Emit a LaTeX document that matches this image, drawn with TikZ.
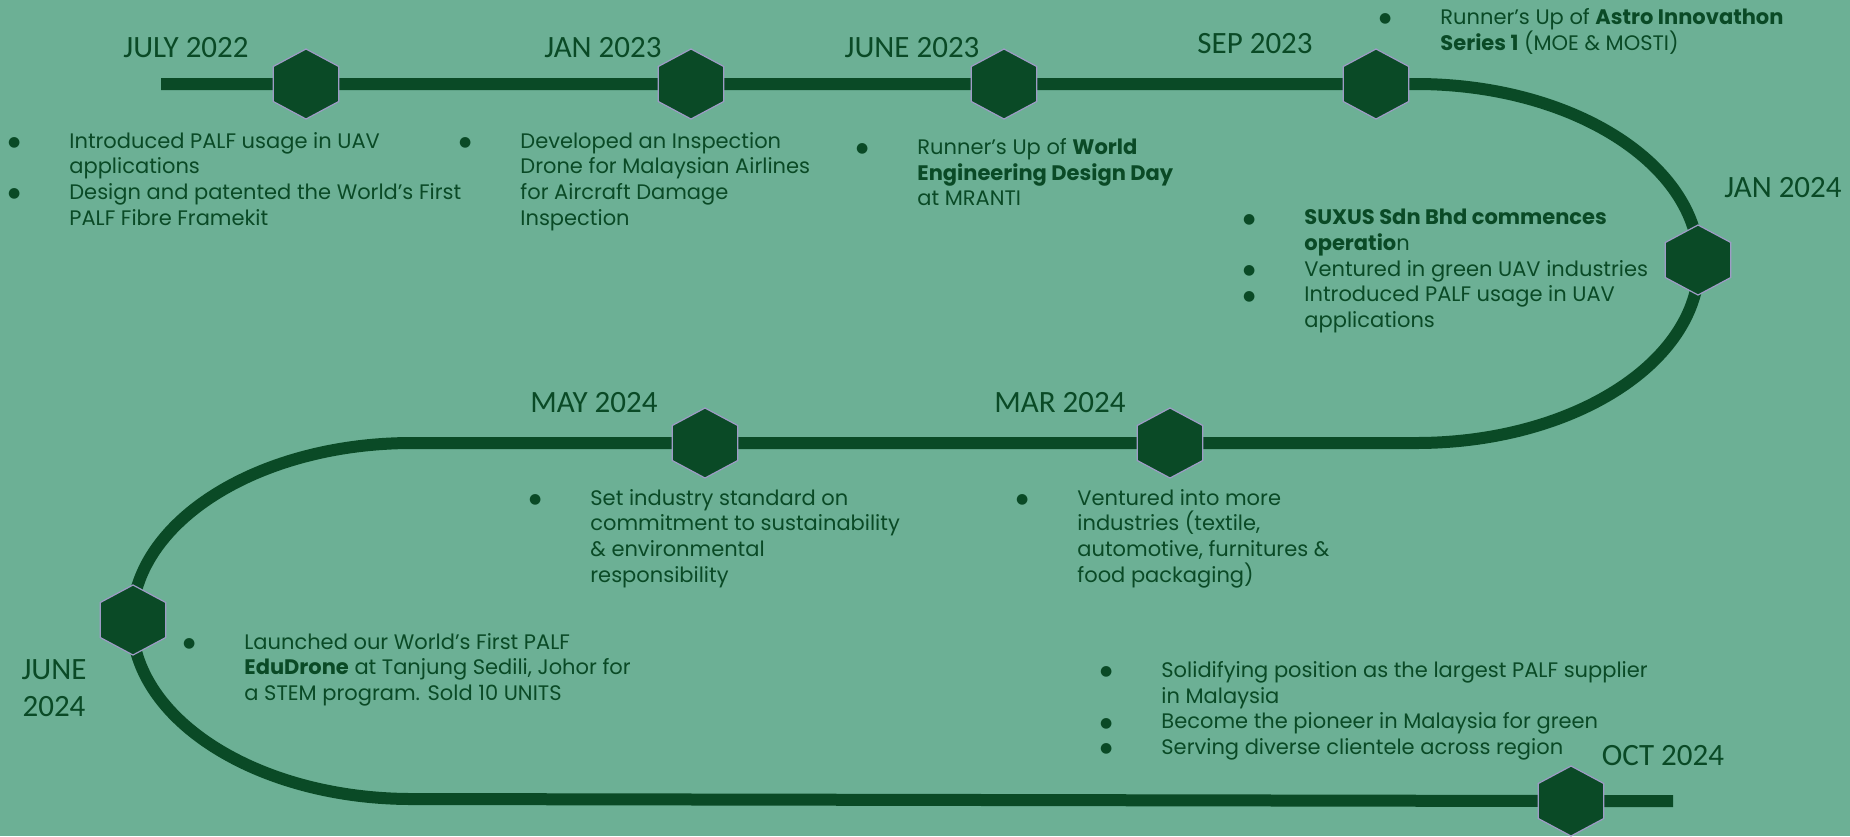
\documentclass[tikz,border=0pt]{standalone}
\usepackage{fontspec}
\setmainfont{Poppins}
\newfontfamily\datefont{Carlito}
\newfontfamily\bulfont{DejaVu Sans}
\usepackage{xcolor}
\usetikzlibrary{shapes.geometric}

\definecolor{bggreen}{HTML}{6CB095}
\definecolor{darkgreen}{HTML}{0A4A26}
\definecolor{hexedge}{HTML}{9E9BC6}

\newcommand{\bul}{\llap{\raisebox{0.8pt}{\bulfont\fontsize{7pt}{0pt}\selectfont ●}\hspace{24.5pt}}}

\tikzset{
  hexa/.style={regular polygon, regular polygon sides=6, shape border rotate=30,
    minimum size=35pt, inner sep=0pt, fill=darkgreen, draw=hexedge, line width=0.6pt,
    transform shape, xscale=1.08},
  track/.style={draw=darkgreen, line width=6pt},
  datelabel/.style={font=\datefont\fontsize{15.5pt}{18.5pt}\selectfont, text=darkgreen,
    inner sep=0pt, anchor=base},
  info/.style={font=\fontsize{10.5pt}{12.8pt}\selectfont, text=darkgreen, align=left,
    inner sep=0pt, anchor=north west},
}

\begin{document}
\begin{tikzpicture}[x=0.5pt, y=0.5pt]
        \fill[bggreen] (0,0) rectangle (1850,-836);
        \useasboundingbox (0,0) rectangle (1850,-836);

        % points on the track
        \coordinate (tstart) at (161,-84);
        \coordinate (p1) at (306,-84);
        \coordinate (p2) at (691,-84);
        \coordinate (p3) at (1004,-84);
        \coordinate (p4) at (1376,-84);
        \coordinate (rtop) at (1416,-84);
        \coordinate (p5) at (1698,-260);
        \coordinate (p6) at (1170,-443);
        \coordinate (p7) at (705,-443);
        \coordinate (ltop) at (412,-443);
        \coordinate (p8) at (133,-620);
        \coordinate (p9) at (1571,-801);
        \coordinate (tend) at (1673,-801);

        % the track
        \draw[track] (tstart) -- (p1) -- (p2) -- (p3) -- (p4) -- (rtop)
            arc[start angle=90, end angle=-90, x radius=141.5pt, y radius=89.75pt]
            -- (p6) -- (p7) -- (ltop)
            arc[start angle=90, end angle=270, x radius=140pt, y radius=89pt]
            -- (p9) -- (tend);

        % milestones
        \node[hexa] (h1) at (p1) {};
        \node[hexa] (h2) at (p2) {};
        \node[hexa] (h3) at (p3) {};
        \node[hexa] (h4) at (p4) {};
        \node[hexa] (h5) at (p5) {};
        \node[hexa] (h6) at (p6) {};
        \node[hexa] (h7) at (p7) {};
        \node[hexa] (h8) at (p8) {};
        \node[hexa] (h9) at (p9) {};

        % dates
        \node[datelabel] (d1) at (186,-57) {JULY 2022};
        \node[datelabel] (d2) at (603,-57) {JAN 2023};
        \node[datelabel] (d3) at (912,-57) {JUNE 2023};
        \node[datelabel] (d4) at (1255,-53) {SEP 2023};
        \node[datelabel] (d5) at (1783,-197) {JAN 2024};
        \node[datelabel] (d6) at (1060,-412) {MAR 2024};
        \node[datelabel] (d7) at (594,-412) {MAY 2024};
        \node[datelabel, align=center, anchor=north] (d8) at (54,-659) {JUNE\\2024};
        \node[datelabel] (d9) at (1663,-765) {OCT 2024};

        % notes
        \node[info] (n1) at (69,-132) {\bul Introduced PALF usage in UAV\\applications\\
            \bul Design and patented the World’s First\\PALF Fibre Framekit};
        \node[info] (n2) at (520,-132) {\bul Developed an Inspection\\Drone for Malaysian Airlines\\
            for Aircraft Damage\\Inspection};
        \node[info] (n3) at (917,-138) {\bul Runner’s Up of \textbf{World}\\
            \textbf{Engineering Design Day}\\at MRANTI};
        \node[info] (n4) at (1440,-8) {\bul Runner’s Up of \textbf{Astro Innovathon}\\
            \textbf{Series 1} (MOE \& MOSTI)};
        \node[info] (n5) at (1304,-209) {\bul\textbf{SUXUS Sdn Bhd commences}\\
            \textbf{operatio}n\\\bul Ventured in green UAV industries\\
            \bul Introduced PALF usage in UAV\\applications};
        \node[info] (n6) at (1077,-489) {\bul Ventured into more\\industries (textile,\\
            automotive, furnitures \&\\food packaging)};
        \node[info] (n7) at (590,-489) {\bul Set industry standard on\\
            commitment to sustainability\\\& environmental\\responsibility};
        \node[info] (n8) at (244,-633) {\bul Launched our World’s First PALF\\
            \textbf{EduDrone} at Tanjung Sedili, Johor for\\a STEM program. Sold 10 UNITS};
        \node[info] (n9) at (1161,-661) {\bul Solidifying position as the largest PALF supplier\\
            in Malaysia\\\bul Become the pioneer in Malaysia for green\\
            \bul Serving diverse clientele across region};
\end{tikzpicture}
\end{document}
